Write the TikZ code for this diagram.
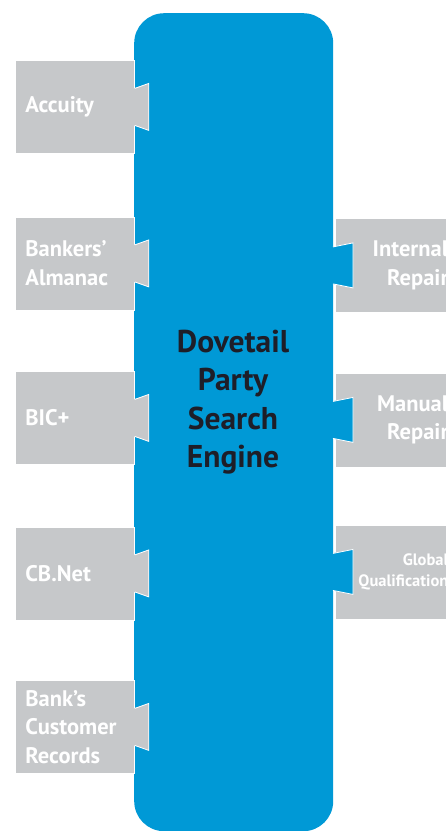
\documentclass[tikz,border=0pt]{standalone}
\usepackage{fontspec}
\setmainfont{PT Sans}
\usetikzlibrary{calc}
\definecolor{engblue}{RGB}{0,153,214}
\definecolor{boxgray}{RGB}{198,200,202}
\definecolor{titleink}{RGB}{30,30,40}
\tikzset{
  engine/.style={fill=engblue, rounded corners=30pt, minimum width=199pt, minimum height=818pt, inner sep=0pt, anchor=north west},
  lbox/.style={fill=boxgray, draw=white, line width=0.8pt, minimum height=93pt, text width=99pt, inner xsep=10pt, inner ysep=0pt, align=left, anchor=north west, text=white, font=\bfseries\fontsize{22.5}{28.5}\selectfont},
  rbox/.style={fill=boxgray, draw=white, line width=0.8pt, minimum height=94pt, text width=96pt, inner xsep=17pt, inner ysep=0pt, align=right, anchor=north west, text=white, font=\bfseries\fontsize{22.5}{28.5}\selectfont},
  ltab/.style={fill=boxgray},
  rtab/.style={fill=engblue},
  tabedge/.style={draw=white, line width=0.8pt},
  title/.style={text=titleink, align=center, font=\bfseries\fontsize{31.5}{38.5}\selectfont}
}
\newcommand{\lefttab}[1]{%
  \fill[ltab] ($(#1.east)+(-1,-18.5)$) -- ($(#1.east)+(14,-23.5)$) -- ($(#1.east)+(14,23.5)$) -- ($(#1.east)+(-1,18.5)$) -- cycle;
  \draw[tabedge] ($(#1.east)+(0,-18.5)$) -- ($(#1.east)+(14,-23.5)$) -- ($(#1.east)+(14,23.5)$) -- ($(#1.east)+(0,18.5)$);}
\newcommand{\righttab}[1]{%
  \fill[rtab] ($(#1.west)+(-3,-18.5)$) -- ($(#1.west)+(18,-22.5)$) -- ($(#1.west)+(18,22.5)$) -- ($(#1.west)+(-3,18.5)$) -- cycle;
  \draw[tabedge] ($(#1.west)+(-2,-18.5)$) -- ($(#1.west)+(18,-22.5)$) -- ($(#1.west)+(18,22.5)$) -- ($(#1.west)+(-2,18.5)$);}
\begin{document}
\begin{tikzpicture}[x=1pt, y=-1pt]
\useasboundingbox (0,0) rectangle (446,831);
\clip (0,0) rectangle (446,831);
\fill[white] (0,0) rectangle (446,831);
\node[engine] (eng) at (134,13) {};
\node[title] (ttl) at (233,402) {Dovetail\\Party\\Search\\Engine};
% left sources
\node[lbox] (acc) at (15,60) {Accuity};
\node[lbox] (ban) at (15,216.5) {Bankers’\\Almanac};
\node[lbox] (bic) at (15,371) {BIC+};
\node[lbox] (cbn) at (15,526.5) {CB.Net};
\node[lbox] (bcr) at (15,680) {Bank’s\\Customer\\Records};
\lefttab{acc}\lefttab{ban}\lefttab{bic}\lefttab{cbn}\lefttab{bcr}
% right outputs
\node[rbox] (inr) at (335,218) {Internal\\Repair};
\node[rbox] (man) at (335,372.5) {Manual\\Repair};
\node[rbox, font=\bfseries\fontsize{16.5}{21}\selectfont] (glq) at (335,524.5) {Global\\Qualification};
\righttab{inr}\righttab{man}\righttab{glq}
\end{tikzpicture}
\end{document}
